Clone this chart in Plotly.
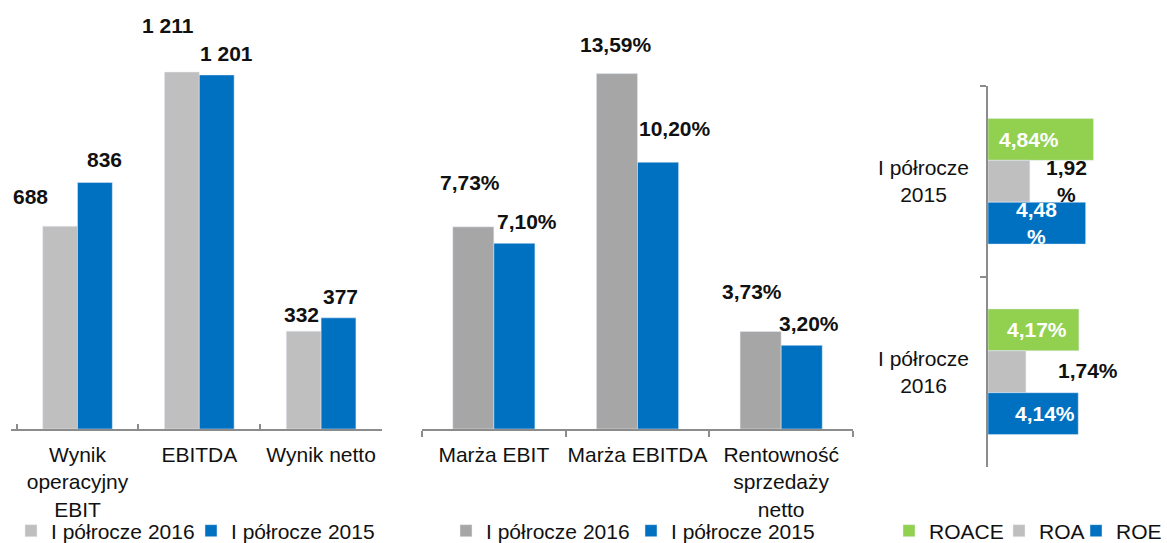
import plotly.graph_objects as go

W, H = 1167, 543
FONT = "Liberation Sans, Arial, sans-serif"
TXT = "#111111"
AX = "#8c8c8c"

# ---- data ----
fin_cats = ["Wynik<br>operacyjny<br>EBIT", "EBITDA", "Wynik netto"]
fin_2016 = [688, 1211, 332]
fin_2015 = [836, 1201, 377]
fin_lbl_2016 = ["688", "1 211", "332"]
fin_lbl_2015 = ["836", "1 201", "377"]

mar_cats = ["Marża EBIT", "Marża EBITDA", "Rentowność<br>sprzedaży<br>netto"]
mar_2016 = [7.73, 13.59, 3.73]
mar_2015 = [7.10, 10.20, 3.20]

ret_cats = ["I półrocze 2015", "I półrocze 2016"]
ret_cat_lbl = ["I półrocze<br>2015", "I półrocze<br>2016"]
roace = [4.84, 4.17]
roa = [1.92, 1.74]
roe = [4.48, 4.14]

series_names = ["I półrocze 2016", "I półrocze 2015"]

def pl(v):
    return f"{v:.2f}".replace(".", ",") + "%"

fig = go.Figure()

# ---- left panel ----
fig.add_trace(go.Bar(x=fin_cats, y=fin_2016, name=series_names[0], marker_color="#BFBFBF",
                     xaxis="x", yaxis="y", legend="legend"))
fig.add_trace(go.Bar(x=fin_cats, y=fin_2015, name=series_names[1], marker_color="#0070C0",
                     xaxis="x", yaxis="y", legend="legend2"))

# ---- middle panel ----
fig.add_trace(go.Bar(x=mar_cats, y=mar_2016, name=series_names[0], marker_color="#A6A6A6",
                     xaxis="x2", yaxis="y2", legend="legend3"))
fig.add_trace(go.Bar(x=mar_cats, y=mar_2015, name=series_names[1], marker_color="#0070C0",
                     xaxis="x2", yaxis="y2", legend="legend4"))

# ---- right panel (horizontal) ----
bw = 0.22
right_series = [(roace, "ROACE", "#92D050", "legend5"), (roa, "ROA", "#BFBFBF", "legend6"),
                (roe, "ROE", "#0070C0", "legend7")]
for i, (vals, nm, col, lg) in enumerate(right_series):
    fig.add_trace(go.Bar(y=ret_cats, x=vals, name=nm, orientation="h", marker_color=col,
                         width=bw, offset=-1.5 * bw + i * bw,
                         xaxis="x3", yaxis="y3", legend=lg))

ann = []
bold = dict(family=FONT, size=21, color=TXT, weight="bold")
# left labels: (cat, value, text, xshift, yshift)
left_off_2016 = [(-47, 30), (-31, 47), (-20, 17)]
left_off_2015 = [(27, 23), (27, 21), (19, 21)]
for c, v, t, (dx, dy) in zip(fin_cats, fin_2016, fin_lbl_2016, left_off_2016):
    ann.append(dict(x=c, y=v, xref="x", yref="y", text=f"<b>{t}</b>", showarrow=False,
                    xshift=dx, yshift=dy, font=bold))
for c, v, t, (dx, dy) in zip(fin_cats, fin_2015, fin_lbl_2015, left_off_2015):
    ann.append(dict(x=c, y=v, xref="x", yref="y", text=f"<b>{t}</b>", showarrow=False,
                    xshift=dx, yshift=dy, font=bold))

mid_off_2016 = [(-24, 44), (-22, 29), (-29, 40)]
mid_off_2015 = [(33, 22), (37, 34), (28, 22)]
for c, v, (dx, dy) in zip(mar_cats, mar_2016, mid_off_2016):
    ann.append(dict(x=c, y=v, xref="x2", yref="y2", text=f"<b>{pl(v)}</b>", showarrow=False,
                    xshift=dx, yshift=dy, font=bold))
for c, v, (dx, dy) in zip(mar_cats, mar_2015, mid_off_2015):
    ann.append(dict(x=c, y=v, xref="x2", yref="y2", text=f"<b>{pl(v)}</b>", showarrow=False,
                    xshift=dx, yshift=dy, font=bold))

white_b = dict(family=FONT, size=21, color="white", weight="bold")
# right labels
r_specs = [
    (roace[0], ret_cats[0], pl(roace[0]), -65, 42, white_b),
    (roa[0], ret_cats[0], pl(roa[0]).replace("%", "<br>%"), 37, 0, bold),
    (roe[0], ret_cats[0], pl(roe[0]).replace("%", "<br>%"), -49, -42, white_b),
    (roace[1], ret_cats[1], pl(roace[1]), -42, 42, white_b),
    (roa[1], ret_cats[1], pl(roa[1]), 62, 1, bold),
    (roe[1], ret_cats[1], pl(roe[1]), -33, -42, white_b),
]
for v, c, t, dx, dy, f in r_specs:
    ann.append(dict(x=v, y=c, xref="x3", yref="y3", text=f"<b>{t}</b>", showarrow=False,
                    xshift=dx, yshift=dy, font=f))
for c, t in zip(ret_cats, ret_cat_lbl):
    ann.append(dict(x=0, y=c, xref="x3 domain", yref="y3", text=t, showarrow=False,
                    xanchor="center", align="center", xshift=-65,
                    font=dict(family=FONT, size=21, color=TXT)))

base_y = 429
left_scale = (base_y - 72) / 1211.0
mid_scale = 26.15
right_scale = 21.8

LEG_Y = 12 / H
def leg(x):
    return dict(orientation="h", x=x / W, xanchor="left", y=LEG_Y, yanchor="middle",
                font=dict(size=21, color=TXT), bgcolor="rgba(0,0,0,0)")

fig.update_layout(
    width=W, height=H,
    margin=dict(l=0, r=0, t=0, b=0, autoexpand=False),
    paper_bgcolor="white", plot_bgcolor="white",
    barmode="group", bargap=0.428, bargroupgap=0,
    font=dict(family=FONT, size=21, color=TXT),
    showlegend=True,
    annotations=ann,
    xaxis=dict(domain=[11 / W, 382 / W], anchor="y", type="category",
               showline=True, linecolor=AX, linewidth=1.5, tickangle=0, automargin=False,
               ticks="inside", tickson="boundaries", ticklen=5, tickcolor=AX, tickwidth=1.5,
               ticklabelstandoff=6,
               tickfont=dict(size=21, color=TXT), showgrid=False, fixedrange=True),
    yaxis=dict(domain=[(H - base_y) / H, 1], anchor="x", range=[0, base_y / left_scale],
               visible=False, showgrid=False),
    xaxis2=dict(domain=[422 / W, 853 / W], anchor="y2", type="category",
                showline=True, linecolor=AX, linewidth=1.5, tickangle=0, automargin=False,
                ticks="outside", tickson="boundaries", ticklen=6, tickcolor=AX, tickwidth=1.5,
                ticklabelstandoff=6,
                tickfont=dict(size=21, color=TXT), showgrid=False),
    yaxis2=dict(domain=[(H - base_y) / H, 1], anchor="x2", range=[0, base_y / mid_scale],
                visible=False, showgrid=False),
    xaxis3=dict(domain=[988 / W, 1160 / W], anchor="y3", range=[0, 172 / right_scale],
                visible=False, showgrid=False),
    yaxis3=dict(domain=[(H - 467) / H, (H - 86) / H], anchor="x3", type="category",
                autorange="reversed", showline=True, linecolor=AX, linewidth=1.5,
                ticks="outside", tickson="boundaries", ticklen=6, tickcolor=AX, tickwidth=1.5,
                showticklabels=False, showgrid=False, automargin=False),
    legend=leg(11),
    legend2=leg(191),
    legend3=leg(446),
    legend4=leg(631),
    legend5=leg(889),
    legend6=leg(999),
    legend7=leg(1076),
)

fig.write_html("out.html", config={"displayModeBar": False},
               post_script="document.body.style.margin='0';document.body.style.overflow='hidden';")
